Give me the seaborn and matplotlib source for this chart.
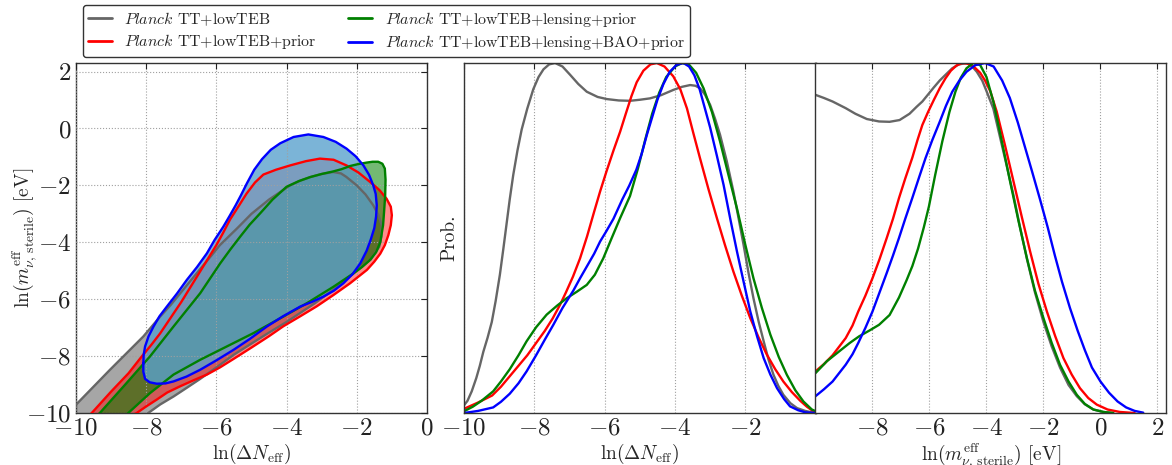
import numpy as np
import pandas as pd
import matplotlib
matplotlib.use("Agg")
import matplotlib.pyplot as plt
from matplotlib.lines import Line2D
import seaborn as sns

# runs, colours
runs = ["TT+lowTEB", "TT+lowTEB+prior", "TT+lowTEB+lensing+prior", "TT+lowTEB+lensing+BAO+prior"]
line_colors = ["#666666", "#ff0000", "#008000", "#0000ff"]
fill_colors = ["#808080", "#ff0000", "#008000", "#5aa2cd"]
fill_alpha = [0.7, 0.45, 0.55, 0.8]

# 2D contours: ln(dNeff) vs ln(m_eff)
grey_cx = [-11.0, -10.0, -9.03, -8.08, -7.60, -7.3, -7.0, -6.7, -6.4, -6.15, -5.9, -5.65, -5.4, -5.0, -4.5,
           -3.9, -3.6, -3.3, -3.0, -2.67, -2.45, -2.3, -2.0, -1.75, -1.53, -1.38, -1.29, -1.3, -1.36, -1.6,
           -2.1, -2.6, -3.2, -4.0, -4.6, -5.5, -6.0, -6.46, -6.85, -7.22, -7.6, -7.94, -8.8]
grey_cy = [-10.9, -9.71, -8.48, -7.31, -6.61, -6.2, -5.75, -5.3, -4.85, -4.48, -4.1, -3.8, -3.5, -3.0, -2.5,
           -2.0, -1.83, -1.7, -1.6, -1.53, -1.58, -1.7, -2.0, -2.32, -2.70, -3.05, -3.40, -3.8, -4.16, -4.6,
           -5.1, -5.6, -6.15, -6.8, -7.25, -7.95, -8.4, -8.8, -9.12, -9.42, -9.7, -10.0, -10.9]

red_cx = [-10.4, -9.55, -9.0, -8.5, -8.13, -7.85, -7.6, -7.3, -7.0, -6.75, -6.5, -6.25, -6.0, -5.8, -5.61,
          -5.35, -5.14, -4.9, -4.66, -4.3, -3.90, -3.45, -3.05, -2.66, -2.29, -1.95, -1.62, -1.35, -1.15, -1.03,
          -1.0, -1.03, -1.10, -1.2, -1.33, -1.5, -1.71, -2.19, -2.66, -3.14, -3.61, -4.09, -4.5, -5.0, -5.51,
          -5.9, -6.27, -6.65, -7.03, -7.40, -7.70, -8.0, -8.27, -9.3]
red_cy = [-11.1, -10.0, -9.25, -8.6, -8.02, -7.6, -7.2, -6.65, -6.1, -5.6, -5.1, -4.6, -4.1, -3.65, -3.2,
          -2.7, -2.29, -1.9, -1.62, -1.45, -1.30, -1.15, -1.06, -1.1, -1.3, -1.55, -1.88, -2.17, -2.47, -2.75,
          -3.05, -3.4, -3.75, -4.1, -4.40, -4.68, -4.97, -5.44, -5.85, -6.25, -6.6, -6.95, -7.3, -7.7, -8.1,
          -8.4, -8.65, -8.85, -9.06, -9.28, -9.53, -9.77, -10.0, -10.7]

green_cx = [-10.3, -9.32, -8.56, -7.89, -7.22, -6.46, -5.89, -5.6, -5.32, -5.05, -4.75, -4.4, -4.0, -3.65,
            -3.33, -3.0, -2.67, -2.43, -2.19, -1.95, -1.72, -1.55, -1.39, -1.27, -1.2, -1.18, -1.19, -1.22,
            -1.25, -1.33, -1.45, -1.62, -1.85, -2.09, -2.66, -3.42, -4.09, -4.94, -5.70, -6.46, -7.22, -7.89,
            -8.51, -9.3]
green_cy = [-11.0, -10.0, -8.95, -8.01, -6.96, -5.79, -4.74, -4.25, -3.80, -3.38, -2.98, -2.5, -2.05, -1.85,
            -1.71, -1.6, -1.51, -1.43, -1.32, -1.25, -1.2, -1.17, -1.17, -1.24, -1.41, -1.8, -2.35, -2.9,
            -3.40, -4.0, -4.35, -4.62, -4.87, -5.09, -5.56, -6.14, -6.61, -7.19, -7.66, -8.13, -8.65, -9.30,
            -10.0, -11.0]

blue_cx = [-8.08, -8.08, -8.03, -7.90, -7.70, -7.45, -7.22, -6.85, -6.46, -6.0, -5.51, -5.05, -4.56, -4.1,
           -3.61, -3.25, -2.95, -2.65, -2.38, -2.12, -1.90, -1.72, -1.60, -1.5, -1.45, -1.43, -1.46, -1.53,
           -1.65, -1.81, -2.03, -2.29, -2.6, -2.95, -3.38, -3.80, -4.18, -4.45, -4.70, -4.92, -5.13, -5.3,
           -5.45, -5.62, -5.80, -6.05, -6.27, -6.55, -6.84, -7.12, -7.41, -7.62, -7.79, -7.93, -8.03, -8.07]
blue_cy = [-8.25, -8.55, -8.80, -8.92, -8.97, -8.96, -8.89, -8.72, -8.48, -8.15, -7.78, -7.4, -6.96, -6.6,
           -6.26, -6.08, -5.91, -5.70, -5.44, -5.12, -4.74, -4.3, -3.9, -3.5, -3.1, -2.7, -2.3, -2.0,
           -1.63, -1.30, -0.98, -0.71, -0.47, -0.30, -0.21, -0.30, -0.52, -0.75, -1.08, -1.45, -1.93, -2.35,
           -2.7, -3.07, -3.45, -3.92, -4.39, -4.87, -5.32, -5.8, -6.26, -6.6, -6.96, -7.3, -7.66, -7.95]

# 1D: ln(dNeff)
neff_grey_x = [-10, -9.9, -9.78, -9.65, -9.55, -9.45, -9.33, -9.21, -9.1, -8.98, -8.88, -8.79, -8.70, -8.60,
               -8.48, -8.36, -8.2, -8.03, -7.88, -7.74, -7.58, -7.41, -7.2, -6.98, -6.75, -6.51, -6.2, -5.94,
               -5.6, -5.28, -5.0, -4.71, -4.4, -4.05, -3.8, -3.57, -3.42, -3.29, -3.15, -3.0, -2.86, -2.72,
               -2.53, -2.34, -2.2, -2.05, -1.91, -1.77, -1.62, -1.48, -1.34, -1.20, -1.06, -0.92, -0.72,
               -0.53, -0.3, -0.16, 0.0]
neff_grey_p = [0.022, 0.035, 0.062, 0.10, 0.135, 0.175, 0.215, 0.26, 0.32, 0.395, 0.47, 0.54, 0.61, 0.68,
               0.75, 0.81, 0.87, 0.925, 0.96, 0.982, 0.996, 1.0, 0.99, 0.966, 0.94, 0.918, 0.903, 0.897,
               0.893, 0.892, 0.895, 0.899, 0.908, 0.923, 0.932, 0.937, 0.935, 0.928, 0.91, 0.88, 0.84, 0.795,
               0.72, 0.633, 0.56, 0.48, 0.40, 0.328, 0.26, 0.205, 0.152, 0.109, 0.077, 0.052, 0.028,
               0.014, 0.006, 0.003, 0.001]
neff_red_x = [-10, -9.6, -9.2, -8.95, -8.7, -8.45, -8.2, -7.95, -7.7, -7.48, -7.27, -7.1, -6.9, -6.70, -6.5,
              -6.3, -6.13, -5.95, -5.75, -5.56, -5.4, -5.24, -5.09, -4.90, -4.70, -4.52, -4.3, -4.05, -3.85,
              -3.66, -3.48, -3.29, -3.05, -2.81, -2.58, -2.34, -2.1, -1.86, -1.62, -1.39, -1.15, -0.92, -0.68,
              -0.44, -0.25, -0.11, 0.0]
neff_red_p = [0.012, 0.03, 0.05, 0.075, 0.105, 0.135, 0.165, 0.2, 0.235, 0.27, 0.309, 0.345, 0.39, 0.442,
              0.505, 0.575, 0.633, 0.69, 0.75, 0.804, 0.855, 0.905, 0.945, 0.978, 0.996, 1.0, 0.99, 0.962,
              0.925, 0.87, 0.80, 0.728, 0.64, 0.557, 0.48, 0.404, 0.335, 0.271, 0.215, 0.167, 0.125, 0.09,
              0.06, 0.035, 0.018, 0.008, 0.003]
neff_green_x = [-10, -9.75, -9.5, -9.17, -8.95, -8.7, -8.45, -8.22, -7.95, -7.65, -7.35, -7.08, -6.8, -6.51,
                -6.28, -6.04, -5.8, -5.56, -5.28, -5.05, -4.85, -4.65, -4.45, -4.25, -4.0, -3.8, -3.6, -3.40,
                -3.19, -2.95, -2.72, -2.48, -2.24, -2.0, -1.77, -1.53, -1.29, -1.05, -0.82, -0.58, -0.35,
                -0.11, 0.0]
neff_green_p = [0.005, 0.018, 0.035, 0.062, 0.09, 0.125, 0.165, 0.205, 0.245, 0.281, 0.307, 0.328, 0.346,
                0.366, 0.395, 0.442, 0.50, 0.557, 0.62, 0.70, 0.78, 0.855, 0.915, 0.96, 0.99, 1.0, 0.995,
                0.972, 0.928, 0.86, 0.776, 0.68, 0.585, 0.48, 0.385, 0.30, 0.224, 0.16, 0.109, 0.065, 0.033,
                0.01, 0.005]
neff_blue_x = [-10, -9.6, -9.17, -8.95, -8.7, -8.45, -8.22, -7.95, -7.7, -7.46, -7.2, -6.89, -6.7, -6.5,
               -6.3, -6.13, -5.95, -5.75, -5.5, -5.3, -5.1, -4.95, -4.8, -4.65, -4.5, -4.33, -4.15, -3.95,
               -3.76, -3.6, -3.45, -3.3, -3.15, -3.0, -2.81, -2.62, -2.43, -2.24, -2.05, -1.86, -1.67, -1.48,
               -1.29, -1.10, -0.9, -0.73, -0.5, -0.3, 0.0]
neff_blue_p = [0.0, 0.006, 0.016, 0.032, 0.055, 0.085, 0.119, 0.165, 0.21, 0.252, 0.30, 0.35, 0.385, 0.42,
               0.455, 0.49, 0.52, 0.555, 0.61, 0.65, 0.695, 0.74, 0.795, 0.845, 0.895, 0.94, 0.975, 0.995,
               1.0, 0.99, 0.965, 0.925, 0.87, 0.815, 0.735, 0.652, 0.555, 0.462, 0.375, 0.29, 0.22, 0.157,
               0.11, 0.071, 0.04, 0.019, 0.008, 0.002, 0.0]

# 1D: ln(m_eff)
meff_grey_x = [-10, -9.7, -9.4, -8.94, -8.6, -8.2, -7.77, -7.4, -7.05, -6.7, -6.45, -6.25, -6.05, -5.85,
               -5.64, -5.44, -5.2, -4.97, -4.69, -4.5, -4.34, -4.15, -4.0, -3.76, -3.53, -3.3, -3.06, -2.82,
               -2.58, -2.3, -2.0, -1.71, -1.42, -1.12, -0.83, -0.55, -0.25, 0.1, 0.45]
meff_grey_p = [0.909, 0.9, 0.89, 0.871, 0.855, 0.84, 0.833, 0.832, 0.837, 0.855, 0.875, 0.89, 0.91, 0.93,
               0.95, 0.966, 0.985, 0.996, 1.0, 0.99, 0.975, 0.95, 0.92, 0.87, 0.79, 0.71, 0.625, 0.53,
               0.44, 0.345, 0.26, 0.19, 0.13, 0.08, 0.048, 0.025, 0.01, 0.003, 0.0]
meff_red_x = [-10, -9.7, -9.4, -8.94, -8.7, -8.5, -8.25, -8.0, -7.75, -7.5, -7.28, -7.07, -6.85, -6.6, -6.42,
              -6.25, -6.05, -5.85, -5.64, -5.44, -5.25, -5.05, -4.85, -4.65, -4.45, -4.22, -4.05, -3.87, -3.64,
              -3.35, -3.05, -2.76, -2.47, -2.18, -1.88, -1.59, -1.30, -1.01, -0.72, -0.43, -0.13, 0.25, 0.68, 1.2]
meff_red_p = [0.119, 0.14, 0.165, 0.214, 0.25, 0.29, 0.335, 0.385, 0.44, 0.50, 0.555, 0.614, 0.67, 0.73, 0.78,
              0.823, 0.86, 0.894, 0.928, 0.956, 0.978, 0.993, 1.0, 0.998, 0.99, 0.972, 0.95, 0.92, 0.861,
              0.765, 0.661, 0.56, 0.462, 0.37, 0.29, 0.22, 0.157, 0.11, 0.071, 0.043, 0.024, 0.01, 0.003, 0.0]
meff_green_x = [-10, -9.6, -9.17, -8.8, -8.47, -8.1, -7.77, -7.4, -7.07, -6.8, -6.6, -6.4, -6.2, -6.02, -5.8,
                -5.55, -5.3, -5.09, -4.9, -4.7, -4.46, -4.22, -4.0, -3.76, -3.47, -3.17, -2.88, -2.58, -2.3,
                -2.0, -1.71, -1.42, -1.12, -0.83, -0.55, -0.25, 0.1, 0.45]
meff_green_p = [0.114, 0.148, 0.176, 0.2, 0.219, 0.236, 0.252, 0.28, 0.33, 0.38, 0.42, 0.47, 0.53, 0.59, 0.68,
                0.776, 0.86, 0.918, 0.958, 0.985, 1.0, 0.994, 0.96, 0.89, 0.78, 0.661, 0.55, 0.442, 0.35,
                0.271, 0.2, 0.138, 0.09, 0.052, 0.026, 0.01, 0.003, 0.0]
meff_blue_x = [-10, -9.7, -9.4, -8.94, -8.7, -8.5, -8.25, -8.0, -7.75, -7.5, -7.28, -7.07, -6.85, -6.6, -6.37,
               -6.14, -5.9, -5.65, -5.42, -5.20, -4.95, -4.7, -4.39, -4.05, -3.75, -3.45, -3.18, -2.9, -2.65,
               -2.4, -2.12, -1.85, -1.6, -1.35, -1.07, -0.8, -0.55, -0.3, 0.0, 0.3, 0.6, 0.9, 1.2, 1.5]
meff_blue_p = [0.048, 0.068, 0.09, 0.138, 0.168, 0.2, 0.243, 0.29, 0.345, 0.40, 0.45, 0.50, 0.555, 0.615,
               0.672, 0.728, 0.78, 0.83, 0.878, 0.918, 0.95, 0.975, 0.994, 1.0, 0.99, 0.95, 0.9, 0.83, 0.76,
               0.69, 0.61, 0.53, 0.45, 0.375, 0.3, 0.235, 0.18, 0.13, 0.09, 0.058, 0.033, 0.016, 0.006, 0.001]

contours = [(grey_cx, grey_cy), (red_cx, red_cy), (green_cx, green_cy), (blue_cx, blue_cy)]
neff_curves = [(neff_grey_x, neff_grey_p), (neff_red_x, neff_red_p),
               (neff_green_x, neff_green_p), (neff_blue_x, neff_blue_p)]
meff_curves = [(meff_grey_x, meff_grey_p), (meff_red_x, meff_red_p),
               (meff_green_x, meff_green_p), (meff_blue_x, meff_blue_p)]

sns.set_style("white")
plt.rcParams.update({
    "font.family": ["cmr10", "DejaVu Serif"],
    "mathtext.fontset": "cm",
    "axes.formatter.use_mathtext": True,
    "axes.edgecolor": "#333333",
    "axes.linewidth": 1.0,
    "grid.color": "#a0a0a0",
    "grid.linestyle": ":",
    "grid.linewidth": 0.8,
    "xtick.direction": "in",
    "ytick.direction": "in",
    "xtick.labelsize": 18,
    "ytick.labelsize": 18,
    "axes.labelsize": 14,
    "xtick.color": "#222222",
    "ytick.color": "#222222",
    "lines.solid_joinstyle": "round",
})

fig = plt.figure(figsize=(11.72, 4.65), dpi=100)
ax1 = fig.add_axes([0.0648, 0.1118, 0.2995, 0.7527])
ax2 = fig.add_axes([0.3959, 0.1118, 0.3001, 0.7527])
ax3 = fig.add_axes([0.6958, 0.1118, 0.2991, 0.7527])

# left: filled contours, then outlines on top
for (cx, cy), fc, fa in zip(contours, fill_colors, fill_alpha):
    ax1.fill(cx, cy, color=fc, alpha=fa, lw=0, zorder=1)
for (cx, cy), lc in zip(contours, line_colors):
    df = pd.DataFrame({"x": cx + cx[:1], "y": cy + cy[:1]})
    sns.lineplot(data=df, x="x", y="y", sort=False, estimator=None, color=lc, lw=1.7, ax=ax1, zorder=3)

ax1.set_xlim(-10, 0)
ax1.set_ylim(-10, 2.3)
ax1.set_xticks(range(-10, 1, 2))
ax1.set_yticks(range(-10, 3, 2))
ax1.set_axisbelow(False)
ax1.grid(True)
ax1.set_xlabel(r"$\ln(\Delta N_{\rm eff})$", labelpad=1)
ax1.set_ylabel(r"$\ln(m^{\rm eff}_{\nu,\,\rm sterile})$ [eV]")
ax1.yaxis.set_label_coords(-0.105, 0.5)
ax1.tick_params(top=True, right=True, length=4)

# 1D marginals
for ax, curves in [(ax2, neff_curves), (ax3, meff_curves)]:
    frames = []
    for run, (x, p) in zip(runs, curves):
        frames.append(pd.DataFrame({"x": x, "p": p, "run": run}))
    long = pd.concat(frames, ignore_index=True)
    sns.lineplot(data=long, x="x", y="p", hue="run", hue_order=runs,
                 palette=dict(zip(runs, line_colors)), estimator=None, lw=1.7,
                 legend=False, ax=ax)
    ax.set_ylim(0, 1.0)
    ax.set_yticks([])
    ax.grid(True, axis="x")
    ax.tick_params(top=True, length=4)

ax2.set_xlim(-10, 0)
ax2.set_xticks(range(-10, -1, 2))
ax2.set_xlabel(r"$\ln(\Delta N_{\rm eff})$", labelpad=1)
ax2.set_ylabel("Prob.")

ax3.set_xlim(-10, 2.3)
ax3.set_xticks(range(-8, 3, 2))
ax3.set_xlabel(r"$\ln(m^{\rm eff}_{\nu,\,\rm sterile})$ [eV]", labelpad=1)
ax3.set_ylabel("")

handles = [Line2D([], [], color=c, lw=2) for c in line_colors]
labels = [r"$Planck$ " + r for r in runs]
fig.legend(handles, labels, ncol=2, loc="upper left", bbox_to_anchor=(83 / 1172, 1 - 5 / 465),
           borderaxespad=0, fontsize=11.4, handlelength=1.5, handletextpad=0.8,
           labelspacing=0.3, borderpad=0.3, columnspacing=2.0, frameon=True,
           edgecolor="#333333", framealpha=1)

fig.savefig("out.png", dpi=100)
